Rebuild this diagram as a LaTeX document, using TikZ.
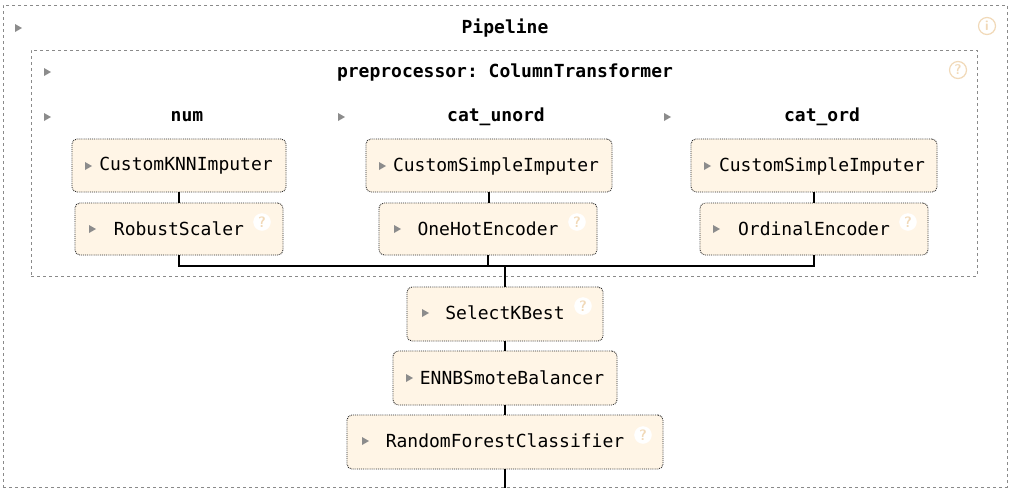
\documentclass[tikz,border=0pt]{standalone}
\usepackage{fontspec}
\setmonofont{DejaVu Sans Mono}
\definecolor{boxfill}{HTML}{FFF5E6}
\definecolor{boxline}{HTML}{2A2A2A}
\definecolor{dashc}{HTML}{8A8A8A}
\definecolor{tric}{HTML}{8C8C8C}
\definecolor{qc}{HTML}{F1D9B8}
\begin{document}
\begin{tikzpicture}[x=1pt,y=-1pt,
  estbox/.style={draw=boxline,densely dotted,line width=0.9pt,fill=boxfill,rounded corners=5pt},
  contbox/.style={draw=dashc,dashed,line width=0.8pt},
  lbl/.style={font=\ttfamily\fontsize{18}{20}\selectfont,inner sep=0pt,anchor=center,text=black},
  title/.style={font=\ttfamily\bfseries\fontsize{18}{20}\selectfont,inner sep=0pt,anchor=center,text=black},
  conn/.style={line width=2.8pt,black},
  qmark/.style={circle,fill=white,draw=white,minimum size=17pt,inner sep=0pt,text=qc,font=\sffamily\bfseries\fontsize{15}{15}\selectfont},
  qout/.style={circle,draw=qc,line width=1.2pt,minimum size=17pt,inner sep=0pt,text=qc,font=\sffamily\bfseries\fontsize{14}{14}\selectfont}]
\useasboundingbox (0,0) rectangle (1009,488);
\fill[white] (0,0) rectangle (1009,488);
\newcommand{\tri}[2]{\fill[tric] (#1-3,#2-4) -- (#1+4,#2) -- (#1-3,#2+4) -- cycle;}

% containers
\node[contbox,minimum width=1004pt,minimum height=482pt,inner sep=0pt] (pipe) at (505,246) {};
\node[contbox,minimum width=946pt,minimum height=226pt,inner sep=0pt] (prep) at (504,163) {};
\tri{18}{28}
\node[title] (tpipe) at (505,28) {Pipeline};
\node[qout] (ipipe) at (987,26) {i};
\tri{47}{72}
\node[title] (tprep) at (505,73) {preprocessor: ColumnTransformer};
\node[qout] (iprep) at (958,70) {?};

% column headers
\tri{47}{117}
\node[title] (hnum) at (187,117) {num};
\tri{341}{117}
\node[title] (hcu) at (496,117) {cat\_unord};
\tri{667}{117}
\node[title] (hco) at (822,117) {cat\_ord};

% estimator boxes
\node[estbox,minimum width=214pt,minimum height=53pt] (knn) at (179,165.5) {};
\node[estbox,minimum width=208pt,minimum height=52pt] (rs) at (179,229) {};
\node[estbox,minimum width=246pt,minimum height=53pt] (csi1) at (489,165.5) {};
\node[estbox,minimum width=218pt,minimum height=52pt] (ohe) at (488,229) {};
\node[estbox,minimum width=246pt,minimum height=53pt] (csi2) at (814,165.5) {};
\node[estbox,minimum width=228pt,minimum height=52pt] (oe) at (814,229) {};
\node[estbox,minimum width=196pt,minimum height=54pt] (skb) at (505,314) {};
\node[estbox,minimum width=224pt,minimum height=54pt] (enn) at (505,378) {};
\node[estbox,minimum width=316pt,minimum height=54pt] (rfc) at (505,442) {};

% labels
\tri{88}{166}   \node[lbl] (lknn) at (186,166) {CustomKNNImputer};
\tri{92}{229}   \node[lbl] (lrs) at (179,229) {RobustScaler};
\node[qmark] (qrs) at (262,222) {?};
\tri{382}{166}  \node[lbl] (lcsi1) at (496,166) {CustomSimpleImputer};
\tri{397}{229}  \node[lbl] (lohe) at (488,229) {OneHotEncoder};
\node[qmark] (qohe) at (577,222) {?};
\tri{707}{166}  \node[lbl] (lcsi2) at (822,166) {CustomSimpleImputer};
\tri{716}{229}  \node[lbl] (loe) at (814,229) {OrdinalEncoder};
\node[qmark] (qoe) at (908,222) {?};
\tri{425}{313}  \node[lbl] (lskb) at (505,313) {SelectKBest};
\node[qmark] (qskb) at (583,306) {?};
\tri{409}{378}  \node[lbl] (lenn) at (512,378) {ENNBSmoteBalancer};
\tri{365}{441}  \node[lbl] (lrfc) at (505,441) {RandomForestClassifier};
\node[qmark] (qrfc) at (643,435) {?};

% connectors
\coordinate (j) at (505,266);
\coordinate (bot) at (505,488);
\draw[conn] (knn.south) -- (rs.north);
\draw[conn] (csi1.south) -- (csi1.south |- ohe.north);
\draw[conn] (csi2.south) -- (oe.north);
\draw[conn] (rs.south) |- (j);
\draw[conn] (oe.south) |- (j);
\draw[conn] (ohe.south) -- (ohe.south |- j);
\draw[conn] (j) -- (skb.north);
\draw[conn] (skb.south) -- (enn.north);
\draw[conn] (enn.south) -- (rfc.north);
\draw[conn] (rfc.south) -- (bot);
\end{tikzpicture}
\end{document}
